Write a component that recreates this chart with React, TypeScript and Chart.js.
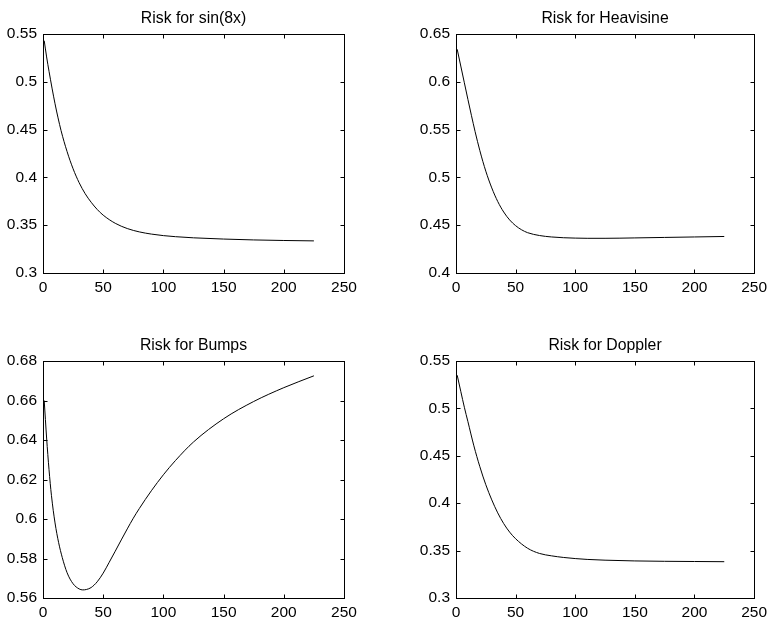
import React, { useEffect, useRef } from "react";
import { Chart, registerables } from "chart.js";

Chart.register(...registerables);

// ---- data ----
const xTicks = [0, 50, 100, 150, 200, 250];

const sin8xX = [1, 3, 5, 10, 15, 20, 25, 30, 35, 40, 45, 50, 60, 70, 80, 90, 100, 110, 125, 150, 175, 200, 225];
const sin8xY = [0.543, 0.526, 0.511, 0.477, 0.449, 0.427, 0.409, 0.3945, 0.383, 0.374, 0.3665, 0.3605, 0.352, 0.3465, 0.343, 0.3407, 0.3391, 0.338, 0.3368, 0.3355, 0.3346, 0.334, 0.3336];

const heavisineX = [1, 4, 7, 10, 13, 16, 20, 25, 30, 35, 40, 45, 50, 55, 60, 70, 80, 90, 100, 110, 125, 150, 175, 200, 225];
const heavisineY = [0.634, 0.6165, 0.599, 0.5815, 0.5645, 0.548, 0.528, 0.5065, 0.489, 0.4748, 0.4638, 0.4555, 0.4495, 0.4452, 0.4422, 0.4392, 0.4377, 0.4369, 0.4365, 0.4363, 0.4363, 0.4367, 0.4372, 0.4377, 0.4382];

const bumpsX = [1, 3, 5, 7, 10, 13, 16, 20, 25, 30, 33, 36, 40, 45, 50, 55, 60, 65, 70, 75, 80, 90, 100, 110, 125, 150, 175, 200, 225];
const bumpsY = [0.66, 0.641, 0.625, 0.612, 0.598, 0.588, 0.5805, 0.5728, 0.5672, 0.5646, 0.5641, 0.5643, 0.5653, 0.5682, 0.5726, 0.5781, 0.5837, 0.5894, 0.595, 0.6004, 0.6053, 0.6143, 0.6224, 0.6296, 0.639, 0.65075, 0.6595, 0.6665, 0.6725];

const dopplerX = [1, 4, 7, 10, 15, 20, 25, 30, 35, 40, 45, 50, 60, 70, 80, 90, 100, 110, 125, 150, 175, 200, 225];
const dopplerY = [0.535, 0.518, 0.5012, 0.486, 0.4605, 0.4385, 0.4195, 0.4035, 0.3898, 0.3785, 0.3695, 0.3625, 0.3525, 0.347, 0.3445, 0.3428, 0.3416, 0.3407, 0.3399, 0.3391, 0.3387, 0.3385, 0.3383];

const titles = ["Risk for sin(8x)", "Risk for Heavisine", "Risk for Bumps", "Risk for Doppler"];
const yRanges = [
  [0.3, 0.55, 0.05],
  [0.4, 0.65, 0.05],
  [0.56, 0.68, 0.02],
  [0.3, 0.55, 0.05],
];
const seriesX = [sin8xX, heavisineX, bumpsX, dopplerX];
const seriesY = [sin8xY, heavisineY, bumpsY, dopplerY];

// ---- layout (pixels) ----
const CW = 386;
const CH = 312;
const layouts = [
  { left: 0, top: 0, yW: 43, padR: 42, padT: 34, xH: 39 },
  { left: 386, top: 0, yW: 70, padR: 15, padT: 34, xH: 39 },
  { left: 0, top: 312, yW: 43, padR: 42, padT: 49, xH: 26 },
  { left: 386, top: 312, yW: 70, padR: 15, padT: 49, xH: 26 },
];

const FONT_FAMILY = '"Liberation Sans", Arial, Helvetica, sans-serif';

const framePlugin = {
  id: "frame",
  afterDraw(chart: any, _args: any, opts: any) {
    const { ctx, chartArea: a, scales } = chart;
    ctx.save();
    ctx.strokeStyle = "#000";
    ctx.lineWidth = 1;
    const L = Math.round(a.left) + 0.5;
    const R = Math.round(a.right) + 0.5;
    const T = Math.round(a.top) + 0.5;
    const B = Math.round(a.bottom) + 0.5;
    ctx.strokeRect(L, T, R - L, B - T);
    ctx.beginPath();
    const tl = 4;
    scales.x.ticks.forEach((t: any) => {
      const px = Math.round(scales.x.getPixelForValue(t.value)) + 0.5;
      ctx.moveTo(px, B);
      ctx.lineTo(px, B - tl);
      ctx.moveTo(px, T);
      ctx.lineTo(px, T + tl);
    });
    scales.y.ticks.forEach((t: any) => {
      const py = Math.round(scales.y.getPixelForValue(t.value)) + 0.5;
      ctx.moveTo(L, py);
      ctx.lineTo(L + tl, py);
      ctx.moveTo(R, py);
      ctx.lineTo(R - tl, py);
    });
    ctx.stroke();
    ctx.fillStyle = "#000";
    ctx.font = `15.8px ${FONT_FAMILY}`;
    ctx.textAlign = "center";
    ctx.textBaseline = "alphabetic";
    ctx.fillText(opts.title, (a.left + a.right) / 2, a.top - 11);
    ctx.restore();
  },
};

function Panel({ idx }: { idx: number }) {
  const ref = useRef<HTMLCanvasElement | null>(null);
  useEffect(() => {
    const lay = layouts[idx];
    const [yMin, yMax, yStep] = yRanges[idx];
    const xs = seriesX[idx];
    const ys = seriesY[idx];
    const tickFont = { family: FONT_FAMILY, size: 15.5 };
    const chart = new Chart(ref.current as HTMLCanvasElement, {
      type: "line",
      data: {
        datasets: [
          {
            data: xs.map((x, i) => ({ x, y: ys[i] })),
            borderColor: "#000",
            borderWidth: 1,
            pointRadius: 0,
            fill: false,
            cubicInterpolationMode: "monotone",
          },
        ],
      },
      options: {
        animation: false,
        responsive: false,
        devicePixelRatio: 1,
        events: [],
        layout: { padding: { top: lay.padT, right: lay.padR, left: 0, bottom: 0 } },
        plugins: {
          legend: { display: false },
          tooltip: { enabled: false },
          title: { display: false },
          frame: { title: titles[idx] },
        } as any,
        scales: {
          x: {
            type: "linear",
            min: xTicks[0],
            max: xTicks[xTicks.length - 1],
            afterBuildTicks: (s: any) => {
              s.ticks = xTicks.map((v) => ({ value: v }));
            },
            ticks: {
              color: "#000",
              font: tickFont,
              padding: 5,
              maxRotation: 0,
              autoSkip: false,
              callback: (v: any) => String(v),
            },
            grid: { display: false, drawTicks: false },
            border: { display: false },
            afterFit: (s: any) => {
              s.height = lay.xH;
            },
          },
          y: {
            type: "linear",
            min: yMin,
            max: yMax,
            ticks: {
              stepSize: yStep,
              color: "#000",
              font: tickFont,
              padding: 6,
              autoSkip: false,
              callback: (v: any) => String(parseFloat(Number(v).toFixed(4))),
            },
            grid: { display: false, drawTicks: false },
            border: { display: false },
            afterFit: (s: any) => {
              s.width = lay.yW;
            },
          },
        },
      } as any,
      plugins: [framePlugin],
    });
    return () => chart.destroy();
  }, [idx]);
  const lay = layouts[idx];
  return (
    <canvas
      ref={ref}
      width={CW}
      height={CH}
      style={{ position: "absolute", left: lay.left, top: lay.top, width: CW, height: CH }}
    />
  );
}

export default function App() {
  return (
    <div style={{ position: "fixed", left: 0, top: 0, width: 772, height: 624, background: "#fff" }}>
      {titles.map((_, i) => (
        <Panel key={i} idx={i} />
      ))}
    </div>
  );
}
